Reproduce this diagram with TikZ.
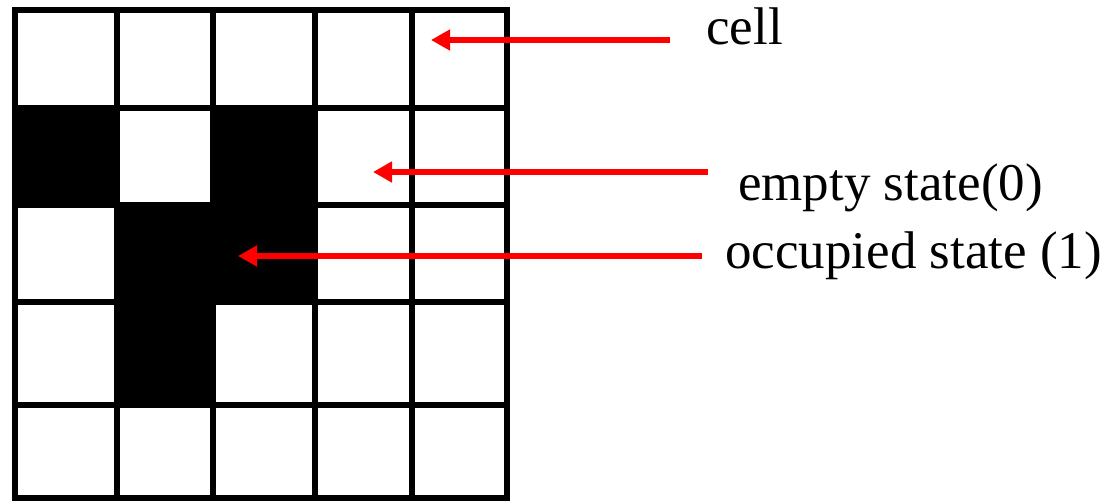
\documentclass[tikz,border=0pt]{standalone}
\usepackage{fontspec}
\setmainfont{Liberation Serif}
\usetikzlibrary{arrows.meta}
\begin{document}
\begin{tikzpicture}[x=1pt,y=-1pt,
  gridline/.style={line width=6.5pt,black},
  occupied/.style={fill=black},
  pointer/.style={red,line width=6pt,-{Triangle[length=19pt,width=20pt]}},
  caption/.style={anchor=base west,inner sep=0pt,font=\fontsize{53}{60}\selectfont}]
\useasboundingbox (0,0) rectangle (1105,503);
\fill[white] (0,0) rectangle (1105,503);
% column and row boundaries of the 5x5 grid
\def\xs{{15,117,213,315,412,507}}
\def\ys{{10,108,205,302,405,498}}
% occupied cells (row,col), 1-based
\foreach \r/\c in {2/1,2/3,3/2,3/3,4/2}{
  \pgfmathsetmacro{\xa}{\xs[\c-1]}\pgfmathsetmacro{\xb}{\xs[\c]}
  \pgfmathsetmacro{\ya}{\ys[\r-1]}\pgfmathsetmacro{\yb}{\ys[\r]}
  \node[occupied,inner sep=0pt,minimum width={\xb-\xa},minimum height={\yb-\ya},anchor=north west]
    (cell-\r-\c) at (\xa,\ya) {};
}
% grid lines
\foreach \i in {0,...,5}{
  \pgfmathsetmacro{\x}{\xs[\i]}
  \draw[gridline] (\x,10) -- (\x,498);
  \pgfmathsetmacro{\y}{\ys[\i]}
  \draw[gridline] (15,\y) -- (507,\y);
}
\draw[gridline,line join=miter] (15,10) rectangle (507,498);
% labels
\node[caption] (lcell) at (706,45) {cell};
\node[caption] (lempty) at (738,200) {empty state(0)};
\node[caption] (locc) at (725,268) {occupied state (1)};
% pointer ends
\coordinate (tcell) at (670,40);
\coordinate (hcell) at (431,40);
\coordinate (tempty) at (708,172);
\coordinate (hempty) at (373,172);
\coordinate (tocc) at (702,256);
\coordinate (hocc) at (238,256);
\draw[pointer] (tcell) -- (hcell);
\draw[pointer] (tempty) -- (hempty);
\draw[pointer] (tocc) -- (hocc);
\end{tikzpicture}
\end{document}
